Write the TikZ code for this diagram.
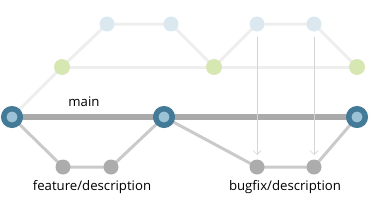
\documentclass[tikz,border=0pt]{standalone}
\usepackage{fontspec}
\setmainfont{Open Sans}
\usetikzlibrary{arrows.meta}
\definecolor{mainblue}{HTML}{427A98}
\definecolor{innerblue}{HTML}{9CC2D6}
\definecolor{paleblue}{HTML}{DBE8EF}
\definecolor{palegreen}{HTML}{D6E7B2}
\definecolor{faint}{HTML}{EEEEEE}
\definecolor{mainline}{HTML}{AAAAAA}
\definecolor{branchline}{HTML}{CACACA}
\definecolor{branchnode}{HTML}{ACACAC}
\definecolor{arrowgray}{HTML}{D4D4D4}
\tikzset{
  x=1pt, y=-1pt,
  maincommit/.style={circle, fill=innerblue, draw=mainblue, line width=5.5pt, minimum size=16.5pt, inner sep=0pt},
  bluecommit/.style={circle, fill=paleblue, minimum size=15pt, inner sep=0pt},
  greencommit/.style={circle, fill=palegreen, minimum size=16pt, inner sep=0pt},
  graycommit/.style={circle, fill=branchnode, minimum size=15pt, inner sep=0pt},
  faintline/.style={draw=faint, line width=3pt},
  mainedge/.style={draw=mainline, line width=6pt},
  branchedge/.style={draw=branchline, line width=3pt},
  mergearrow/.style={draw=arrowgray, line width=0.7pt, -{Straight Barb[length=4pt,width=8pt]}},
  lbl/.style={font=\fontsize{13.2}{15}\selectfont, text=black, inner sep=0pt}
}
\begin{document}
\begin{tikzpicture}
\useasboundingbox (0,0) rectangle (377,217);
% coordinates
\coordinate (m1) at (12,117);
\coordinate (m2) at (164,117);
\coordinate (m3) at (357,117);
\coordinate (g1) at (62,67);
\coordinate (g2) at (214,67);
\coordinate (g3) at (357,67);
\coordinate (b1) at (107,24);
\coordinate (b2) at (171,24);
\coordinate (b3) at (257,24);
\coordinate (b4) at (314,24);
\coordinate (f1) at (63,167);
\coordinate (f2) at (111,167);
\coordinate (x1) at (257,167);
\coordinate (x2) at (314,167);
% faint lines
\draw[faintline] (m1) -- (g1) -- (b1) -- (b2) -- (g2) -- (b3) -- (b4) -- (g3);
\draw[faintline] (g1) -- (g2) -- (g3);
% nodes faint
\node[greencommit] (G1) at (g1) {};
\node[greencommit] (G2) at (g2) {};
\node[greencommit] (G3) at (g3) {};
\node[bluecommit] (B1) at (b1) {};
\node[bluecommit] (B2) at (b2) {};
\node[bluecommit] (B3) at (b3) {};
\node[bluecommit] (B4) at (b4) {};
% branch lines
\draw[branchedge] (m1) -- (f1) -- (f2) -- (m2);
\draw[branchedge] (m2) -- (x1) -- (x2) -- (m3);
\draw[mainedge] (m1) -- (m2) -- (m3);
% branch nodes
\node[graycommit] (F1) at (f1) {};
\node[graycommit] (F2) at (f2) {};
\node[graycommit] (X1) at (x1) {};
\node[graycommit] (X2) at (x2) {};
% arrows
\coordinate (a1e) at (257,155);
\coordinate (a2e) at (314,155);
\draw[mergearrow] ([yshift=-5pt]B3.south) -- (a1e);
\draw[mergearrow] ([yshift=-5pt]B4.south) -- (a2e);
% main nodes
\node[maincommit] (M1) at (m1) {};
\node[maincommit] (M2) at (m2) {};
\node[maincommit] (M3) at (m3) {};
% labels
\node[lbl] (lmain) at (84,102) {main};
\node[lbl] (lfeat) at (92,187) {feature/description};
\node[lbl] (lbug) at (285,187) {bugfix/description};
\end{tikzpicture}
\end{document}
